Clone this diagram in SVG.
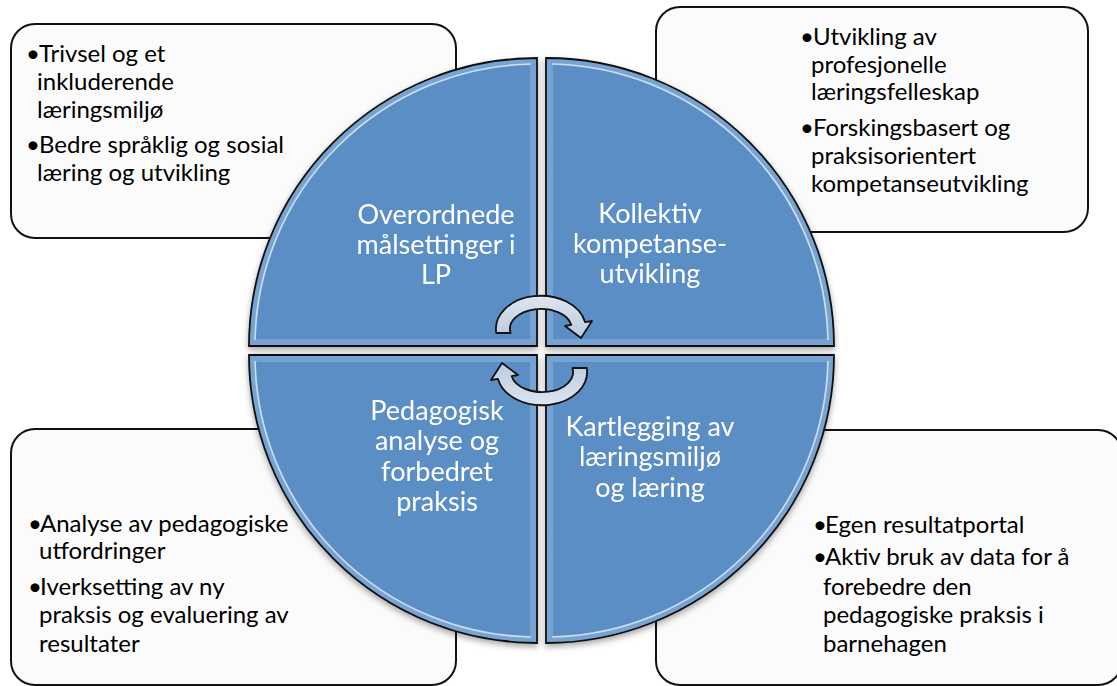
<svg xmlns="http://www.w3.org/2000/svg" width="1117" height="686" viewBox="0 0 1117 686">
<style>
.box{fill:#fbfbfb;stroke:#111;stroke-width:2}
.bt{font-family:Lato,"Noto Sans",sans-serif;font-size:24px;fill:#000}
.qt{font-family:Lato,"Noto Sans",sans-serif;font-size:27px;fill:#fff;text-anchor:middle}
.q{fill:#5a8ec4}
.qo{fill:none;stroke:#111;stroke-width:1.8}
.bev{fill:none;stroke:#8fb5df;stroke-width:14;stroke-opacity:0.55}
.hl{fill:none;stroke:#e8f1fb;stroke-width:1.6;stroke-opacity:0.75}
.arr{fill:url(#ag);stroke:#111;stroke-width:1.8;stroke-linejoin:round}
</style>
<defs>
<linearGradient id="ag" x1="0" y1="0" x2="0" y2="1">
<stop offset="0" stop-color="#dde5f0"/>
<stop offset="1" stop-color="#bccbe0"/>
</linearGradient>
<filter id="sh" x="-10%" y="-10%" width="120%" height="125%">
<feDropShadow dx="0" dy="3" stdDeviation="3" flood-color="#000" flood-opacity="0.35"/>
</filter>
<path id="pTL" d="M537,346 L249,346 A288,288 0 0 1 537,58 Z"/>
<path id="pTR" d="M546,346 L546,58 A288,288 0 0 1 834,346 Z"/>
<path id="pBR" d="M546,355 L834,355 A288,288 0 0 1 546,643 Z"/>
<path id="pBL" d="M537,355 L537,643 A288,288 0 0 1 249,355 Z"/>
<clipPath id="cTL"><use href="#pTL"/></clipPath>
<clipPath id="cTR"><use href="#pTR"/></clipPath>
<clipPath id="cBR"><use href="#pBR"/></clipPath>
<clipPath id="cBL"><use href="#pBL"/></clipPath>
</defs>
<rect width="1117" height="686" fill="#fff"/>

<g id="box-tl">
<rect class="box" x="11" y="24" width="445" height="214" rx="24"/>
<text class="bt" x="26" y="62">•<tspan x="39">Trivsel og et</tspan></text>
<text class="bt" x="37" y="90">inkluderende</text>
<text class="bt" x="37" y="118">læringsmiljø</text>
<text class="bt" x="26" y="153">•<tspan x="39">Bedre språklig og sosial</tspan></text>
<text class="bt" x="37" y="181">læring og utvikling</text>
</g>

<g id="box-tr">
<rect class="box" x="656" y="7" width="432" height="225" rx="24"/>
<text class="bt" x="800" y="45">•<tspan x="813">Utvikling av</tspan></text>
<text class="bt" x="811" y="73">profesjonelle</text>
<text class="bt" x="811" y="100">læringsfelleskap</text>
<text class="bt" x="800" y="136">•<tspan x="813">Forskingsbasert og</tspan></text>
<text class="bt" x="811" y="164">praksisorientert</text>
<text class="bt" x="811" y="192">kompetanseutvikling</text>
</g>

<g id="box-bl">
<rect class="box" x="11" y="429" width="445" height="256" rx="24"/>
<text class="bt" x="28" y="532">•<tspan x="40">Analyse av pedagogiske</tspan></text>
<text class="bt" x="39" y="559">utfordringer</text>
<text class="bt" x="28" y="595">•<tspan x="40">Iverksetting av ny</tspan></text>
<text class="bt" x="39" y="623">praksis og evaluering av</text>
<text class="bt" x="39" y="652">resultater</text>
</g>

<g id="box-br">
<rect class="box" x="656" y="430" width="466" height="255" rx="24"/>
<text class="bt" x="813" y="533">•<tspan x="825">Egen resultatportal</tspan></text>
<text class="bt" x="813" y="565">•<tspan x="825">Aktiv bruk av data for å</tspan></text>
<text class="bt" x="823" y="595">forebedre den</text>
<text class="bt" x="823" y="623">pedagogiske praksis i</text>
<text class="bt" x="823" y="652">barnehagen</text>
</g>

<g filter="url(#sh)">
<g id="quad-tl">
<use href="#pTL" class="q"/>
<use href="#pTL" class="bev" clip-path="url(#cTL)"/>
<path class="hl" d="M255,340 A282,282 0 0 1 531,64"/>
<use href="#pTL" class="qo"/>
<text class="qt" x="436" y="224">Overordnede</text>
<text class="qt" x="436" y="254">målsettinger i</text>
<text class="qt" x="436" y="284">LP</text>
</g>
<g id="quad-tr">
<use href="#pTR" class="q"/>
<use href="#pTR" class="bev" clip-path="url(#cTR)"/>
<path class="hl" d="M552,64 A282,282 0 0 1 828,340"/>
<use href="#pTR" class="qo"/>
<text class="qt" x="650" y="223">Kollektiv</text>
<text class="qt" x="650" y="253">kompetanse-</text>
<text class="qt" x="650" y="283">utvikling</text>
</g>
<g id="quad-br">
<use href="#pBR" class="q"/>
<use href="#pBR" class="bev" clip-path="url(#cBR)"/>
<path class="hl" d="M828,361 A282,282 0 0 1 552,637"/>
<use href="#pBR" class="qo"/>
<text class="qt" x="650" y="436">Kartlegging av</text>
<text class="qt" x="650" y="466">læringsmiljø</text>
<text class="qt" x="650" y="497">og læring</text>
</g>
<g id="quad-bl">
<use href="#pBL" class="q"/>
<use href="#pBL" class="bev" clip-path="url(#cBL)"/>
<path class="hl" d="M531,637 A282,282 0 0 1 255,361"/>
<use href="#pBL" class="qo"/>
<text class="qt" x="437" y="420">Pedagogisk</text>
<text class="qt" x="437" y="450">analyse og</text>
<text class="qt" x="437" y="481">forbedret</text>
<text class="qt" x="437" y="511">praksis</text>
</g>
</g>

<g id="connectors">
<path class="arr" d="M496.3,333 A45,33 0 0 1 585,322.1 L592,321 L581,338 L565,326 L571.3,324.8 A31,20 0 0 0 510.6,333 Z"/>
<path class="arr" transform="rotate(180 541.5 350.5)" d="M496.3,333 A45,33 0 0 1 585,322.1 L592,321 L581,338 L565,326 L571.3,324.8 A31,20 0 0 0 510.6,333 Z"/>
</g>
</svg>
